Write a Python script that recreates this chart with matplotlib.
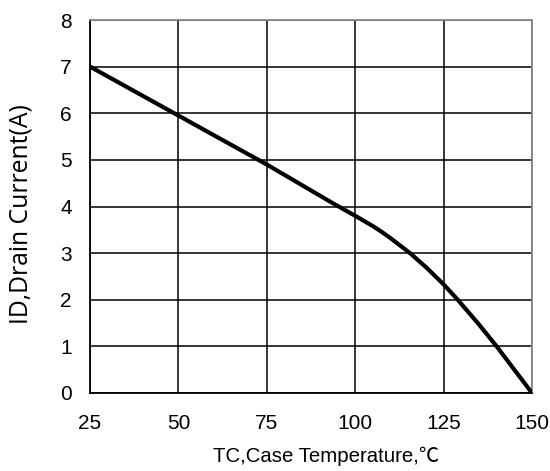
import matplotlib
matplotlib.use("Agg")
import matplotlib.pyplot as plt

# values
temp_c = [25, 50, 75, 93, 100, 105, 107.5, 110, 112.5, 115.5, 120, 125, 129, 135, 140, 145, 150]
drain_a = [7.0, 5.95, 4.9, 4.1, 3.8, 3.58, 3.455, 3.32, 3.175, 3.0, 2.7, 2.33, 2.0, 1.47, 1.0, 0.5, 0.0]
x_ticks = [25, 50, 75, 100, 125, 150]
y_ticks = [0, 1, 2, 3, 4, 5, 6, 7, 8]

plt.rcParams['font.family'] = ['Liberation Sans', 'Noto Sans CJK SC', 'DejaVu Sans']

fig = plt.figure(figsize=(5.5, 4.71), dpi=100)
ax = fig.add_axes([90 / 550, 1 - 393 / 471, 442 / 550, 373 / 471])

ax.plot(temp_c, drain_a, color='black', lw=3, solid_capstyle='butt',
        solid_joinstyle='round', zorder=3)

ax.set_xlim(25, 150)
ax.set_ylim(0, 8)
ax.set_xticks(x_ticks)
ax.set_yticks(y_ticks)
ax.grid(True, color='black', lw=1.1)
ax.tick_params(length=0, labelsize=15)
ax.tick_params(axis='y', pad=13)
ax.tick_params(axis='x', pad=15)

for side in ['left', 'bottom']:
    ax.spines[side].set_color('black')
    ax.spines[side].set_linewidth(1.3)
for side in ['top', 'right']:
    ax.spines[side].set_color('#888888')
    ax.spines[side].set_linewidth(1.3)

ax.set_xlabel('TC,Case Temperature,\u2103', fontsize=14.7)
ax.xaxis.set_label_coords(0.534, -0.145)
ax.set_ylabel('ID,Drain Current(A)', fontsize=17.8,
              family=['Open Sans', 'DejaVu Sans'])
ax.yaxis.set_label_coords(-0.127, 0.48)

fig.savefig('out.png', dpi=100)
